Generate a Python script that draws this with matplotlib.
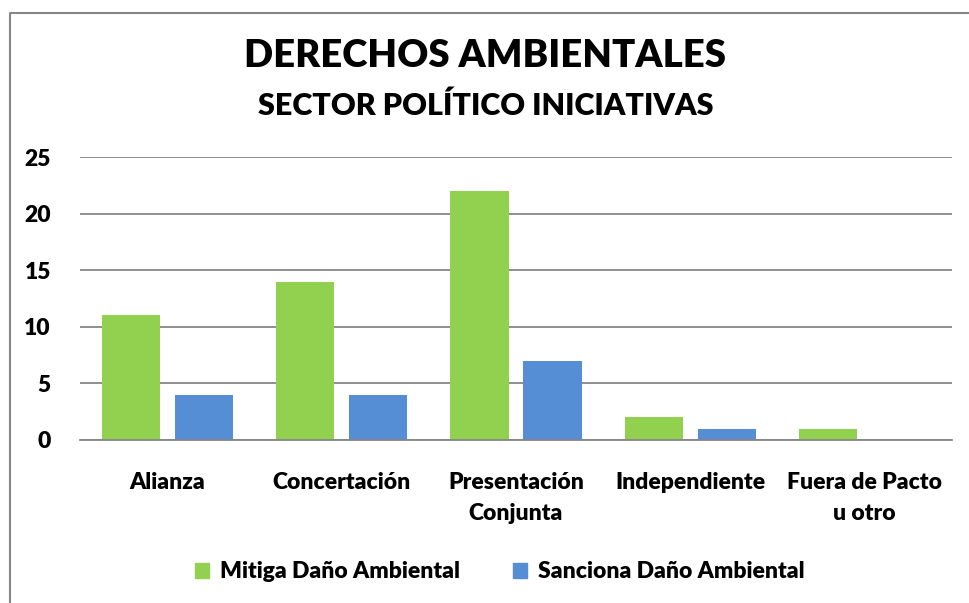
import numpy as np
import matplotlib.pyplot as plt
from matplotlib.lines import Line2D
from matplotlib.patches import Patch

categorias = ['Alianza', 'Concertación', 'Presentación\nConjunta', 'Independiente', 'Fuera de Pacto\nu otro']
mitiga = [11, 14, 22, 2, 1]
sanciona = [4, 4, 7, 1, 0]

verde = '#92D050'
azul = '#558ED5'
gris = '#868686'

plt.rcParams['font.family'] = ['Lato', 'DejaVu Sans']
peso = 'heavy'

fig = plt.figure(figsize=(9.69, 6.03), dpi=100)
ax = fig.add_axes([80/969, 1-440/603, 872/969, 283/603])

x = np.arange(len(categorias))
ancho = 0.333
sep = 0.086
ax.bar(x - (ancho+sep)/2, mitiga, ancho, color=verde, zorder=3)
ax.bar(x + (ancho+sep)/2, sanciona, ancho, color=azul, zorder=3)

ax.set_xlim(-0.5, len(categorias)-0.5)
ax.set_ylim(0, 25)
ax.set_yticks(range(0, 26, 5))
ax.yaxis.grid(True, color=gris, linewidth=1.3, zorder=0)
for s in ['top', 'right', 'left']:
    ax.spines[s].set_visible(False)
ax.spines['bottom'].set_color(gris)
ax.spines['bottom'].set_linewidth(1.3)
ax.spines['bottom'].set_zorder(4)
ax.set_xticks(x)
ax.set_xticklabels(categorias, fontsize=16.5, fontweight=peso, linespacing=1.6)
for t in ax.get_yticklabels():
    t.set_fontweight(peso)
ax.tick_params(axis='both', length=0)
ax.tick_params(axis='x', pad=23)
ax.tick_params(axis='y', pad=21, labelsize=16.5)

fig.text(485/969, 1-56/603, 'DERECHOS AMBIENTALES', ha='center', va='center', fontsize=27.5, fontweight=peso)
fig.text(486/969, 1-106/603, 'SECTOR POLÍTICO INICIATIVAS', ha='center', va='center', fontsize=22, fontweight=peso)

# borde del gráfico (solo se ven izquierda y arriba)
fig.add_artist(Line2D([10/969, 10/969, 1], [0, 1-13/603, 1-13/603], transform=fig.transFigure, color=gris, linewidth=1.5))

handles = [Patch(color=verde), Patch(color=azul)]
fig.legend(handles, ['Mitiga Daño Ambiental', 'Sanciona Daño Ambiental'], loc='center',
           bbox_to_anchor=(500/969, 1-572/603), ncol=2, frameon=False,
           prop={'size': 16.5, 'weight': peso},
           handlelength=0.6, handleheight=0.6, handletextpad=0.5, columnspacing=2.3)

fig.savefig('out.png', dpi=100)
